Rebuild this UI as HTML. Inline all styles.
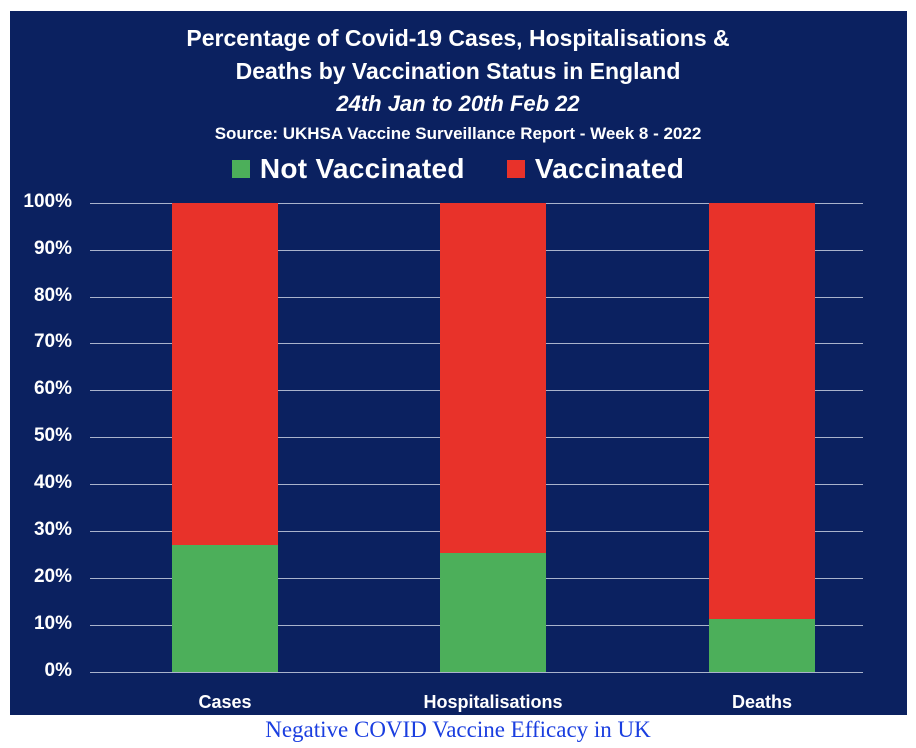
<!DOCTYPE html><html><head><style>
body{margin:0;width:916px;height:748px;background:#fff;font-family:"Liberation Sans",sans-serif;position:relative;overflow:hidden}
.p{position:absolute;left:10px;top:11px;width:897px;height:704px;background:#0b2160}
.t{position:absolute;left:0;width:916px;text-align:center;color:#fff;font-weight:bold}
.g{position:absolute;left:90px;width:773px;height:1px;background:#aab3cc}
.y{position:absolute;left:0;width:72px;text-align:right;color:#fff;font-weight:bold;font-size:19px}
.b{position:absolute;width:106px}
.x{position:absolute;color:#fff;font-weight:bold;font-size:18px;text-align:center;width:200px;top:692px}
</style></head><body>
<div class="p"></div>
<div class="t" style="top:25px;font-size:23px">Percentage of Covid-19 Cases, Hospitalisations &amp;</div>
<div class="t" style="top:58px;font-size:23px">Deaths by Vaccination Status in England</div>
<div class="t" style="top:91px;font-size:22px;font-style:italic">24th Jan to 20th Feb 22</div>
<div class="t" style="top:124px;font-size:17px">Source: UKHSA Vaccine Surveillance Report - Week 8 - 2022</div>
<div class="t" style="top:153px;font-size:28px;letter-spacing:0.3px"><span style="display:inline-block;width:18px;height:18px;background:#4caf5a;margin-right:10px"></span>Not Vaccinated <span style="display:inline-block;width:18px;height:18px;background:#e8322a;margin:0 10px 0 34px"></span>Vaccinated</div>
<div class="g" style="top:203px"></div><div class="g" style="top:250px"></div><div class="g" style="top:297px"></div><div class="g" style="top:343px"></div><div class="g" style="top:390px"></div><div class="g" style="top:437px"></div><div class="g" style="top:484px"></div><div class="g" style="top:531px"></div><div class="g" style="top:578px"></div><div class="g" style="top:625px"></div><div class="g" style="top:672px"></div>
<div class="y" style="top:191px">100%</div><div class="y" style="top:238px">90%</div><div class="y" style="top:285px">80%</div><div class="y" style="top:331px">70%</div><div class="y" style="top:378px">60%</div><div class="y" style="top:425px">50%</div><div class="y" style="top:472px">40%</div><div class="y" style="top:519px">30%</div><div class="y" style="top:566px">20%</div><div class="y" style="top:613px">10%</div><div class="y" style="top:660px">0%</div>
<div class="b" style="left:172px;top:203px;height:342px;background:#e8322a"></div>
<div class="b" style="left:172px;top:545px;height:127px;background:#4caf5a"></div>
<div class="b" style="left:440px;top:203px;height:350px;background:#e8322a"></div>
<div class="b" style="left:440px;top:553px;height:119px;background:#4caf5a"></div>
<div class="b" style="left:709px;top:203px;height:416px;background:#e8322a"></div>
<div class="b" style="left:709px;top:619px;height:53px;background:#4caf5a"></div>
<div class="x" style="left:125px">Cases</div>
<div class="x" style="left:393px">Hospitalisations</div>
<div class="x" style="left:662px">Deaths</div>
<div style="position:absolute;top:717px;left:0;width:916px;text-align:center;font-family:'Liberation Serif',serif;font-size:23px;color:#1a3ee0">Negative COVID Vaccine Efficacy in UK</div>
</body></html>
